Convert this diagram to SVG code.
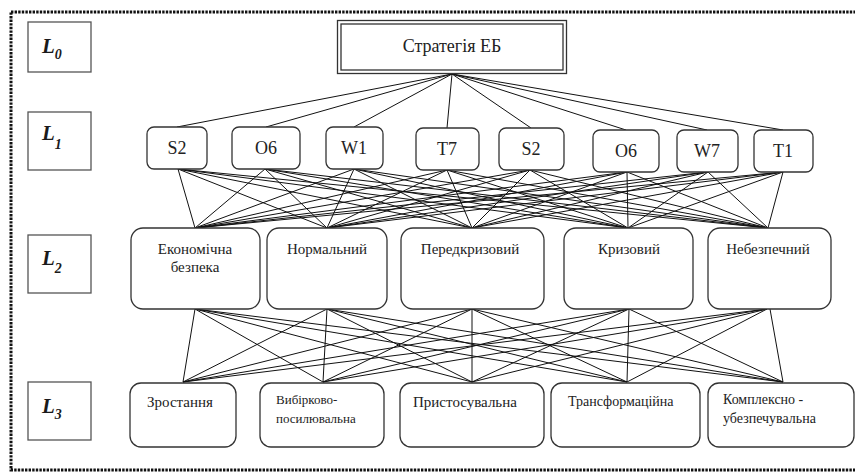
<svg xmlns="http://www.w3.org/2000/svg" width="855" height="473" viewBox="0 0 855 473">
<style>
.bx{fill:#fff;stroke:#333;stroke-width:1.3}
.lb{fill:#fff;stroke:#555;stroke-width:1.3}
.t{font-family:'Liberation Serif','DejaVu Serif','Times New Roman',serif;fill:#222}
.L{font-family:'Liberation Serif','DejaVu Serif',serif;font-weight:bold;font-style:italic;fill:#1a1a1a}
.c line{stroke:#111;stroke-width:1}
</style>
<rect x="11" y="12" width="870" height="458" fill="none" stroke="#111" stroke-width="3" stroke-dasharray="2.4 1.2"/>

<g id="L0"><rect class="lb" x="28" y="22" width="63" height="50"/><text class="L" x="42" y="53" font-size="21">L<tspan font-size="14" dy="6">0</tspan></text></g>
<g id="L1"><rect class="lb" x="28" y="112" width="63" height="58"/><text class="L" x="42" y="140" font-size="21">L<tspan font-size="14" dy="9">1</tspan></text></g>
<g id="L2"><rect class="lb" x="28" y="235" width="63" height="58"/><text class="L" x="42" y="265" font-size="21">L<tspan font-size="14" dy="8">2</tspan></text></g>
<g id="L3"><rect class="lb" x="28" y="382" width="63" height="58"/><text class="L" x="42" y="413" font-size="21">L<tspan font-size="14" dy="6">3</tspan></text></g>

<g class="c" id="connectors">
<line x1="452" y1="74" x2="177" y2="127"/>
<line x1="452" y1="74" x2="266" y2="127"/>
<line x1="452" y1="74" x2="354" y2="127"/>
<line x1="452" y1="74" x2="447" y2="128"/>
<line x1="452" y1="74" x2="531" y2="128"/>
<line x1="452" y1="74" x2="626" y2="130"/>
<line x1="452" y1="74" x2="707" y2="130"/>
<line x1="452" y1="74" x2="783" y2="130"/>
<line x1="178" y1="169" x2="195" y2="228"/><line x1="178" y1="169" x2="327" y2="228"/><line x1="178" y1="169" x2="472" y2="228"/><line x1="178" y1="169" x2="628" y2="228"/><line x1="178" y1="169" x2="768" y2="228"/>
<line x1="265" y1="169" x2="195" y2="228"/><line x1="265" y1="169" x2="327" y2="228"/><line x1="265" y1="169" x2="472" y2="228"/><line x1="265" y1="169" x2="628" y2="228"/><line x1="265" y1="169" x2="768" y2="228"/>
<line x1="354" y1="169" x2="195" y2="228"/><line x1="354" y1="169" x2="327" y2="228"/><line x1="354" y1="169" x2="472" y2="228"/><line x1="354" y1="169" x2="628" y2="228"/><line x1="354" y1="169" x2="768" y2="228"/>
<line x1="447" y1="170" x2="195" y2="228"/><line x1="447" y1="170" x2="327" y2="228"/><line x1="447" y1="170" x2="472" y2="228"/><line x1="447" y1="170" x2="628" y2="228"/><line x1="447" y1="170" x2="768" y2="228"/>
<line x1="530" y1="170" x2="195" y2="228"/><line x1="530" y1="170" x2="327" y2="228"/><line x1="530" y1="170" x2="472" y2="228"/><line x1="530" y1="170" x2="628" y2="228"/><line x1="530" y1="170" x2="768" y2="228"/>
<line x1="627" y1="172" x2="195" y2="228"/><line x1="627" y1="172" x2="327" y2="228"/><line x1="627" y1="172" x2="472" y2="228"/><line x1="627" y1="172" x2="628" y2="228"/><line x1="627" y1="172" x2="768" y2="228"/>
<line x1="708" y1="172" x2="195" y2="228"/><line x1="708" y1="172" x2="327" y2="228"/><line x1="708" y1="172" x2="472" y2="228"/><line x1="708" y1="172" x2="628" y2="228"/><line x1="708" y1="172" x2="768" y2="228"/>
<line x1="783" y1="172" x2="195" y2="228"/><line x1="783" y1="172" x2="327" y2="228"/><line x1="783" y1="172" x2="472" y2="228"/><line x1="783" y1="172" x2="628" y2="228"/><line x1="783" y1="172" x2="768" y2="228"/>
<line x1="195" y1="309" x2="183" y2="382"/><line x1="195" y1="309" x2="323" y2="382"/><line x1="195" y1="309" x2="472" y2="382"/><line x1="195" y1="309" x2="627" y2="382"/><line x1="195" y1="309" x2="783" y2="382"/>
<line x1="327" y1="309" x2="183" y2="382"/><line x1="327" y1="309" x2="323" y2="382"/><line x1="327" y1="309" x2="472" y2="382"/><line x1="327" y1="309" x2="627" y2="382"/><line x1="327" y1="309" x2="783" y2="382"/>
<line x1="472" y1="309" x2="183" y2="382"/><line x1="472" y1="309" x2="323" y2="382"/><line x1="472" y1="309" x2="472" y2="382"/><line x1="472" y1="309" x2="627" y2="382"/><line x1="472" y1="309" x2="783" y2="382"/>
<line x1="629" y1="309" x2="183" y2="382"/><line x1="629" y1="309" x2="323" y2="382"/><line x1="629" y1="309" x2="472" y2="382"/><line x1="629" y1="309" x2="627" y2="382"/><line x1="629" y1="309" x2="783" y2="382"/>
<line x1="767" y1="309" x2="183" y2="382"/><line x1="767" y1="309" x2="323" y2="382"/><line x1="767" y1="309" x2="472" y2="382"/><line x1="767" y1="309" x2="627" y2="382"/><line x1="770" y1="309" x2="783" y2="382"/>
</g>

<g id="strategy">
<rect x="337.5" y="20.5" width="229" height="53" fill="#fff" stroke="#333" stroke-width="1.3"/>
<rect x="341" y="24" width="222" height="46" fill="none" stroke="#333" stroke-width="1.3"/>
<text class="t" x="452" y="52" font-size="18" text-anchor="middle">Стратегія ЕБ</text>
</g>

<g id="n_s2a"><rect class="bx" x="147" y="127" width="60" height="42" rx="7"/><text class="t" x="177" y="154" font-size="18" text-anchor="middle">S2</text></g>
<g id="n_o6a"><rect class="bx" x="232" y="127" width="68" height="42" rx="7"/><text class="t" x="266" y="154" font-size="18" text-anchor="middle">O6</text></g>
<g id="n_w1"><rect class="bx" x="326" y="127" width="57" height="42" rx="7"/><text class="t" x="354" y="154" font-size="18" text-anchor="middle">W1</text></g>
<g id="n_t7"><rect class="bx" x="416" y="128" width="63" height="42" rx="7"/><text class="t" x="447" y="155" font-size="18" text-anchor="middle">T7</text></g>
<g id="n_s2b"><rect class="bx" x="499" y="128" width="65" height="42" rx="7"/><text class="t" x="531" y="155" font-size="18" text-anchor="middle">S2</text></g>
<g id="n_o6b"><rect class="bx" x="593" y="130" width="66" height="42" rx="7"/><text class="t" x="626" y="157" font-size="18" text-anchor="middle">O6</text></g>
<g id="n_w7"><rect class="bx" x="677" y="130" width="61" height="42" rx="7"/><text class="t" x="707" y="157" font-size="18" text-anchor="middle">W7</text></g>
<g id="n_t1"><rect class="bx" x="754" y="130" width="59" height="42" rx="7"/><text class="t" x="783" y="157" font-size="18" text-anchor="middle">T1</text></g>

<g id="n_eb"><rect class="bx" x="131" y="228" width="129" height="81" rx="12"/><text class="t" x="195" y="254" font-size="15" text-anchor="middle">Економічна</text><text class="t" x="195" y="272" font-size="15" text-anchor="middle">безпека</text></g>
<g id="n_norm"><rect class="bx" x="267" y="228" width="120" height="81" rx="12"/><text class="t" x="327" y="254" font-size="15" text-anchor="middle">Нормальний</text></g>
<g id="n_pred"><rect class="bx" x="401" y="228" width="143" height="81" rx="12"/><text class="t" x="470" y="254" font-size="15" text-anchor="middle">Передкризовий</text></g>
<g id="n_kriz"><rect class="bx" x="564" y="228" width="129" height="81" rx="12"/><text class="t" x="629" y="254" font-size="15" text-anchor="middle">Кризовий</text></g>
<g id="n_neb"><rect class="bx" x="708" y="228" width="123" height="81" rx="12"/><text class="t" x="768" y="254" font-size="15" text-anchor="middle">Небезпечний</text></g>

<g id="n_zr"><rect class="bx" x="130" y="383" width="106" height="64" rx="11"/><text class="t" x="147" y="407" font-size="15">Зростання</text></g>
<g id="n_vyb"><rect class="bx" x="260" y="383" width="124" height="64" rx="11"/><text class="t" x="276" y="404" font-size="13">Вибірково-</text><text class="t" x="276" y="423" font-size="13">посилювальна</text></g>
<g id="n_pryst"><rect class="bx" x="400" y="383" width="144" height="64" rx="11"/><text class="t" x="413" y="407" font-size="15">Пристосувальна</text></g>
<g id="n_trans"><rect class="bx" x="551" y="383" width="149" height="64" rx="11"/><text class="t" x="568" y="406" font-size="14">Трансформаційна</text></g>
<g id="n_kompl"><rect class="bx" x="708" y="383" width="146" height="64" rx="11"/><text class="t" x="723" y="404" font-size="14">Комплексно -</text><text class="t" x="723" y="423" font-size="14">убезпечувальна</text></g>
</svg>
